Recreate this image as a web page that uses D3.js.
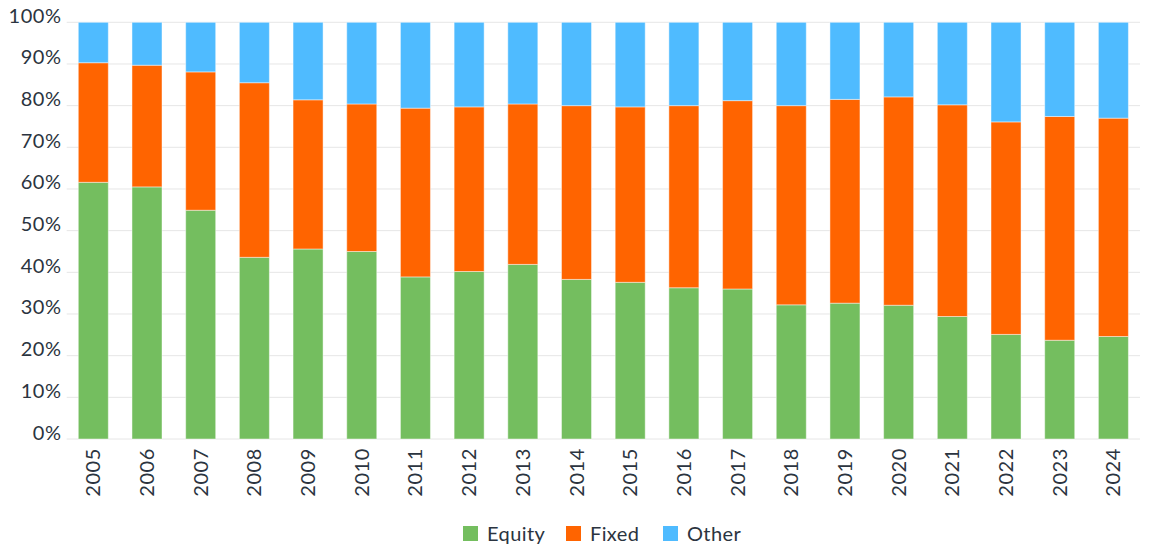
<!DOCTYPE html>
<html>
<head>
<meta charset="utf-8">
<script src="https://cdn.jsdelivr.net/npm/d3@7/dist/d3.min.js"></script>
<style>
  html, body { margin: 0; padding: 0; background: #fff; }
  svg { display: block; font-family: Lato, "Noto Sans", sans-serif; }
</style>
</head>
<body>
<svg id="chart" width="1150" height="549"></svg>
<script>
const years = ["2005","2006","2007","2008","2009","2010","2011","2012","2013","2014","2015","2016","2017","2018","2019","2020","2021","2022","2023","2024"];
const equity = [61.6, 60.5, 54.9, 43.6, 45.6, 45.0, 38.9, 40.2, 41.9, 38.3, 37.6, 36.3, 36.0, 32.2, 32.6, 32.1, 29.4, 25.1, 23.7, 24.6];
const fixed  = [28.7, 29.2, 33.2, 41.9, 35.8, 35.4, 40.5, 39.5, 38.5, 41.7, 42.1, 43.7, 45.2, 47.8, 48.9, 50.0, 50.8, 51.0, 53.7, 52.4];
const other  = years.map((yr, i) => +(100 - equity[i] - fixed[i]).toFixed(1));
const seriesNames = ["Equity", "Fixed", "Other"];
const seriesColors = ["#74BE5F", "#FF6400", "#4FBBFF"];
const yTicks = [0, 10, 20, 30, 40, 50, 60, 70, 80, 90, 100];

(function () {
const svg = d3.select("#chart");
const mLeft = 66.7, mRight = 1140, mTop = 22.3, mBottom = 439;
const textColor = "#2b3440";
const fontFam = "Lato, 'Noto Sans', sans-serif";

const x = d3.scaleBand().domain(years).range([mLeft, mRight]).paddingInner(0.441).paddingOuter(0.216);
const y = d3.scaleLinear().domain([0, 100]).range([mBottom, mTop]);

// grid
svg.append("g").selectAll("line").data(yTicks).join("line")
  .attr("x1", mLeft).attr("x2", mRight)
  .attr("y1", d => y(d)).attr("y2", d => y(d))
  .attr("stroke", "#e6e6e6").attr("stroke-width", 1);

// y axis labels
const yAxis = d3.axisLeft(y).tickValues(yTicks).tickFormat(d => d + "%").tickSize(0).tickPadding(5);
const gy = svg.append("g").attr("transform", `translate(${mLeft},0)`).call(yAxis);
gy.select(".domain").remove();
gy.selectAll("text").attr("font-size", 20).attr("fill", textColor).attr("font-family", fontFam)
  .attr("letter-spacing", "0.6px").attr("dy", "0");

// stacked data
const table = years.map((yr, i) => ({ year: yr, Equity: equity[i], Fixed: fixed[i], Other: other[i] }));
const layers = d3.stack().keys(seriesNames)(table);

svg.append("g").selectAll("g").data(layers).join("g")
  .attr("fill", (d, i) => seriesColors[i])
  .selectAll("rect").data(d => d).join("rect")
  .attr("x", d => x(d.data.year))
  .attr("width", x.bandwidth())
  .attr("y", d => y(d[1]))
  .attr("height", d => y(d[0]) - y(d[1]))
  .attr("stroke", "#ffffff").attr("stroke-opacity", 0.45).attr("stroke-width", 1);

// x axis labels
const xAxis = d3.axisBottom(x).tickSize(0).tickPadding(0);
const gx = svg.append("g").attr("transform", `translate(0,${mBottom})`).call(xAxis);
gx.select(".domain").remove();
gx.selectAll("text")
  .attr("font-size", 20).attr("fill", textColor).attr("font-family", fontFam)
  .attr("letter-spacing", "0.6px")
  .attr("text-anchor", "end")
  .attr("transform", "translate(0,9) rotate(-90)")
  .attr("x", 0).attr("y", 0).attr("dy", "0.35em");

// legend
const legendItems = [
  { name: seriesNames[0], color: seriesColors[0], x: 463 },
  { name: seriesNames[1], color: seriesColors[1], x: 566 },
  { name: seriesNames[2], color: seriesColors[2], x: 663 }
];
const lg = svg.append("g").selectAll("g").data(legendItems).join("g")
  .attr("transform", d => `translate(${d.x},526)`);
lg.append("rect").attr("width", 15).attr("height", 15).attr("fill", d => d.color);
lg.append("text").attr("x", 24).attr("y", 7.5).attr("dy", "0.36em")
  .attr("font-size", 20).attr("fill", textColor).attr("letter-spacing", "0.4px")
  .text(d => d.name);
})();
</script>
</body>
</html>
